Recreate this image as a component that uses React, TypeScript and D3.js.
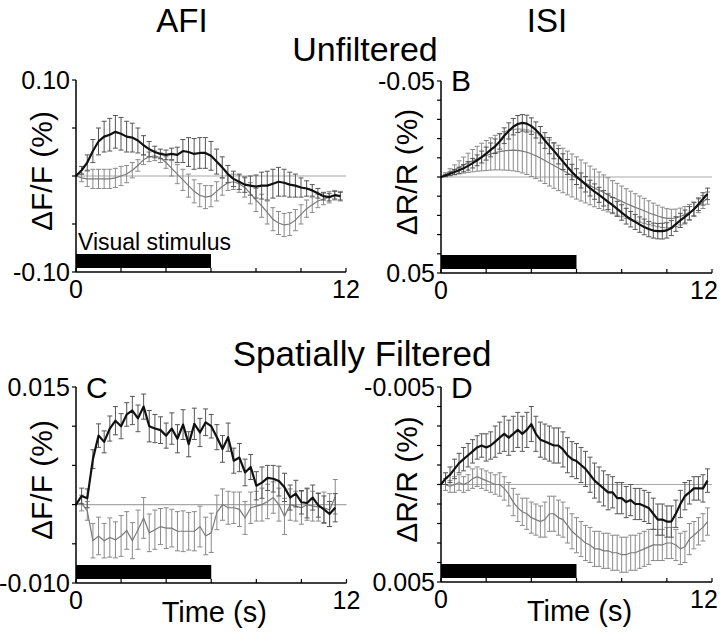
import React from "react";
import * as d3 from "d3";

// ---------- DATA ----------
const timesQuarter = [0, 0.25, 0.5, 0.75, 1, 1.25, 1.5, 1.75, 2, 2.25, 2.5, 2.75, 3, 3.25, 3.5, 3.75, 4, 4.25, 4.5, 4.75, 5, 5.25, 5.5, 5.75, 6, 6.25, 6.5, 6.75, 7, 7.25, 7.5, 7.75, 8, 8.25, 8.5, 8.75, 9, 9.25, 9.5, 9.75, 10, 10.25, 10.5, 10.75, 11, 11.25, 11.5, 11.75];
const timesFifth = [0, 0.2, 0.4, 0.6, 0.8, 1, 1.2, 1.4, 1.6, 1.8, 2, 2.2, 2.4, 2.6, 2.8, 3, 3.2, 3.4, 3.6, 3.8, 4, 4.2, 4.4, 4.6, 4.8, 5, 5.2, 5.4, 5.6, 5.8, 6, 6.2, 6.4, 6.6, 6.8, 7, 7.2, 7.4, 7.6, 7.8, 8, 8.2, 8.4, 8.6, 8.8, 9, 9.2, 9.4, 9.6, 9.8, 10, 10.2, 10.4, 10.6, 10.8, 11, 11.2, 11.4, 11.6, 11.8];

// Panel A: AFI unfiltered (dF/F %)
const afiRawBlack = [0, 0.006, 0.014, 0.026, 0.036, 0.041, 0.043, 0.046, 0.044, 0.041, 0.040, 0.037, 0.032, 0.028, 0.025, 0.023, 0.022, 0.023, 0.022, 0.026, 0.025, 0.023, 0.024, 0.024, 0.021, 0.015, 0.009, 0.002, -0.003, -0.006, -0.009, -0.010, -0.011, -0.010, -0.010, -0.008, -0.006, -0.007, -0.009, -0.010, -0.012, -0.013, -0.015, -0.018, -0.021, -0.022, -0.020, -0.021];
const afiRawBlackErr = [0, 0.004, 0.008, 0.012, 0.014, 0.016, 0.017, 0.017, 0.017, 0.016, 0.015, 0.013, 0.010, 0.008, 0.006, 0.005, 0.005, 0.006, 0.008, 0.012, 0.015, 0.016, 0.016, 0.016, 0.015, 0.013, 0.011, 0.009, 0.008, 0.008, 0.008, 0.010, 0.012, 0.014, 0.015, 0.015, 0.015, 0.014, 0.013, 0.012, 0.010, 0.008, 0.006, 0.005, 0.004, 0.004, 0.004, 0.004];
const afiRawGray = [0, -0.002, -0.003, -0.003, -0.003, -0.003, -0.003, -0.002, 0.000, 0.002, 0.006, 0.011, 0.017, 0.020, 0.021, 0.019, 0.014, 0.008, 0.002, -0.004, -0.010, -0.016, -0.020, -0.022, -0.021, -0.016, -0.011, -0.007, -0.006, -0.008, -0.012, -0.018, -0.025, -0.031, -0.038, -0.045, -0.049, -0.051, -0.050, -0.046, -0.040, -0.034, -0.030, -0.026, -0.024, -0.022, -0.020, -0.021];
const afiRawGrayErr = [0, 0.004, 0.008, 0.010, 0.010, 0.010, 0.010, 0.010, 0.010, 0.009, 0.008, 0.006, 0.005, 0.005, 0.005, 0.005, 0.006, 0.008, 0.010, 0.011, 0.012, 0.012, 0.012, 0.012, 0.011, 0.010, 0.009, 0.008, 0.008, 0.009, 0.010, 0.011, 0.012, 0.012, 0.012, 0.012, 0.012, 0.012, 0.012, 0.011, 0.010, 0.009, 0.008, 0.007, 0.006, 0.006, 0.005, 0.005];

// Panel B: ISI unfiltered (dR/R %)
const isiRawBlack = [0, -0.0008, -0.0017, -0.0026, -0.0035, -0.0046, -0.0058, -0.0072, -0.0087, -0.0104, -0.0122, -0.0141, -0.0160, -0.0185, -0.0215, -0.0240, -0.0262, -0.0276, -0.0282, -0.0278, -0.0265, -0.0245, -0.0220, -0.0190, -0.0163, -0.0136, -0.0108, -0.0080, -0.0052, -0.0026, -0.0002, 0.0018, 0.0038, 0.0058, 0.0076, 0.0093, 0.0111, 0.0129, 0.0147, 0.0166, 0.0185, 0.0204, 0.0220, 0.0234, 0.0248, 0.0260, 0.0271, 0.0279, 0.0282, 0.0282, 0.0278, 0.0266, 0.0245, 0.0226, 0.0208, 0.0189, 0.0168, 0.0142, 0.0114, 0.0088];
const isiRawBlackErr = [0, 0.0006, 0.0010, 0.0013, 0.0016, 0.0019, 0.0022, 0.0025, 0.0028, 0.0031, 0.0034, 0.0036, 0.0038, 0.0040, 0.0041, 0.0042, 0.0043, 0.0044, 0.0043, 0.0044, 0.0043, 0.0042, 0.0043, 0.0041, 0.0042, 0.0041, 0.0040, 0.0041, 0.0039, 0.0040, 0.0041, 0.0039, 0.0040, 0.0041, 0.0040, 0.0039, 0.0040, 0.0041, 0.0040, 0.0039, 0.0040, 0.0041, 0.0040, 0.0039, 0.0040, 0.0041, 0.0040, 0.0039, 0.0040, 0.0041, 0.0040, 0.0039, 0.0038, 0.0037, 0.0036, 0.0035, 0.0034, 0.0033, 0.0032, 0.0030];
const isiRawGray = [0, -0.0012, -0.0025, -0.0037, -0.0050, -0.0062, -0.0074, -0.0085, -0.0095, -0.0104, -0.0112, -0.0120, -0.0127, -0.0132, -0.0136, -0.0139, -0.0140, -0.0139, -0.0135, -0.0129, -0.0121, -0.0111, -0.0099, -0.0086, -0.0073, -0.0060, -0.0047, -0.0034, -0.0021, -0.0008, 0.0005, 0.0018, 0.0031, 0.0044, 0.0057, 0.0069, 0.0081, 0.0093, 0.0105, 0.0116, 0.0127, 0.0138, 0.0148, 0.0158, 0.0167, 0.0176, 0.0186, 0.0195, 0.0203, 0.0210, 0.0215, 0.0216, 0.0213, 0.0206, 0.0196, 0.0183, 0.0168, 0.0150, 0.0130, 0.0110];
const isiRawGrayErr = [0, 0.0010, 0.0018, 0.0026, 0.0034, 0.0042, 0.0050, 0.0058, 0.0065, 0.0072, 0.0078, 0.0084, 0.0090, 0.0095, 0.0100, 0.0104, 0.0108, 0.0111, 0.0114, 0.0116, 0.0118, 0.0119, 0.0120, 0.0120, 0.0120, 0.0119, 0.0118, 0.0116, 0.0114, 0.0112, 0.0110, 0.0107, 0.0104, 0.0101, 0.0098, 0.0095, 0.0092, 0.0089, 0.0086, 0.0083, 0.0080, 0.0077, 0.0074, 0.0071, 0.0068, 0.0065, 0.0062, 0.0059, 0.0056, 0.0053, 0.0050, 0.0048, 0.0046, 0.0044, 0.0042, 0.0040, 0.0038, 0.0036, 0.0034, 0.0032];

// Panel C: AFI spatially filtered (dF/F %)
const afiFiltBlack = [0, 0.0011, 0.0008, 0.0058, 0.0088, 0.0080, 0.0097, 0.0107, 0.0100, 0.0115, 0.0120, 0.0110, 0.0125, 0.0100, 0.0097, 0.0095, 0.0088, 0.0097, 0.0084, 0.0102, 0.0077, 0.0103, 0.0092, 0.0105, 0.0100, 0.0086, 0.0071, 0.0086, 0.0056, 0.0060, 0.0041, 0.0048, 0.0024, 0.0028, 0.0034, 0.0033, 0.0030, 0.0022, 0.0009, 0.0014, 0.0003, 0.0002, 0.0009, -0.0001, -0.0006, -0.0012, -0.0004];
const afiFiltBlackErr = [0, 0.0010, 0.0012, 0.0012, 0.0015, 0.0014, 0.0016, 0.0018, 0.0016, 0.0015, 0.0018, 0.0017, 0.0016, 0.0020, 0.0018, 0.0017, 0.0016, 0.0020, 0.0018, 0.0019, 0.0016, 0.0020, 0.0018, 0.0017, 0.0015, 0.0016, 0.0017, 0.0018, 0.0016, 0.0018, 0.0017, 0.0016, 0.0018, 0.0020, 0.0016, 0.0017, 0.0019, 0.0018, 0.0016, 0.0017, 0.0015, 0.0019, 0.0016, 0.0015, 0.0017, 0.0016, 0.0018];
const afiFiltGray = [0, 0.0002, -0.0008, -0.0046, -0.0040, -0.0046, -0.0042, -0.0045, -0.0040, -0.0033, -0.0046, -0.0032, -0.0017, -0.0036, -0.0032, -0.0028, -0.0030, -0.0030, -0.0034, -0.0034, -0.0034, -0.0034, -0.0028, -0.0040, -0.0036, -0.0010, 0.0000, -0.0004, -0.0004, -0.0006, -0.0017, -0.0004, -0.0002, 0.0000, 0.0004, 0.0009, 0.0000, -0.0015, 0.0000, -0.0002, -0.0004, 0.0000, -0.0002, -0.0003, -0.0004, -0.0007, 0.0010];
const afiFiltGrayErr = [0, 0.0010, 0.0012, 0.0022, 0.0024, 0.0022, 0.0025, 0.0023, 0.0026, 0.0024, 0.0023, 0.0025, 0.0026, 0.0024, 0.0025, 0.0023, 0.0026, 0.0024, 0.0025, 0.0026, 0.0024, 0.0025, 0.0026, 0.0024, 0.0025, 0.0022, 0.0020, 0.0021, 0.0020, 0.0022, 0.0021, 0.0020, 0.0019, 0.0021, 0.0022, 0.0020, 0.0021, 0.0023, 0.0020, 0.0019, 0.0021, 0.0020, 0.0019, 0.0018, 0.0020, 0.0021, 0.0022];

// Panel D: ISI spatially filtered (dR/R %)
const isiFiltBlack = [0, -0.0003, -0.0005, -0.0008, -0.0011, -0.0013, -0.0015, -0.0017, -0.0019, -0.0020, -0.0019, -0.0020, -0.0022, -0.0024, -0.0026, -0.0024, -0.0026, -0.0028, -0.0026, -0.0028, -0.0031, -0.0026, -0.0023, -0.0022, -0.0021, -0.0020, -0.0020, -0.0018, -0.0015, -0.0013, -0.0012, -0.0010, -0.0008, -0.0005, -0.0002, 0.0000, 0.0002, 0.0004, 0.0004, 0.0007, 0.0007, 0.0009, 0.0008, 0.0010, 0.0010, 0.0011, 0.0012, 0.0015, 0.0018, 0.0018, 0.0019, 0.0019, 0.0015, 0.0010, 0.0006, 0.0004, 0.0002, 0.0002, 0.0002, -0.0002];
const isiFiltBlackErr = [0, 0.0003, 0.0004, 0.0005, 0.0005, 0.0006, 0.0006, 0.0006, 0.0006, 0.0006, 0.0007, 0.0007, 0.0008, 0.0008, 0.0009, 0.0009, 0.0009, 0.0009, 0.0009, 0.0009, 0.0009, 0.0009, 0.0009, 0.0009, 0.0009, 0.0009, 0.0009, 0.0009, 0.0009, 0.0009, 0.0009, 0.0009, 0.0009, 0.0009, 0.0009, 0.0009, 0.0009, 0.0009, 0.0008, 0.0008, 0.0008, 0.0008, 0.0008, 0.0008, 0.0008, 0.0008, 0.0008, 0.0008, 0.0008, 0.0008, 0.0008, 0.0008, 0.0007, 0.0007, 0.0007, 0.0006, 0.0006, 0.0006, 0.0007, 0.0006];
const isiFiltGray = [0, 0.0000, 0.0001, 0.0000, -0.0001, 0.0000, -0.0001, -0.0003, -0.0004, -0.0003, -0.0002, -0.0001, 0.0000, 0.0000, 0.0002, 0.0005, 0.0009, 0.0012, 0.0014, 0.0015, 0.0017, 0.0018, 0.0019, 0.0018, 0.0015, 0.0015, 0.0017, 0.0018, 0.0021, 0.0024, 0.0026, 0.0028, 0.0030, 0.0031, 0.0033, 0.0033, 0.0034, 0.0034, 0.0035, 0.0035, 0.0036, 0.0036, 0.0035, 0.0035, 0.0034, 0.0033, 0.0032, 0.0031, 0.0031, 0.0031, 0.0030, 0.0030, 0.0031, 0.0033, 0.0032, 0.0028, 0.0026, 0.0024, 0.0022, 0.0019];
const isiFiltGrayErr = [0, 0.0003, 0.0003, 0.0004, 0.0004, 0.0004, 0.0004, 0.0005, 0.0005, 0.0005, 0.0005, 0.0005, 0.0005, 0.0006, 0.0006, 0.0006, 0.0007, 0.0007, 0.0007, 0.0008, 0.0008, 0.0008, 0.0008, 0.0009, 0.0009, 0.0009, 0.0009, 0.0009, 0.0009, 0.0009, 0.0009, 0.0009, 0.0009, 0.0009, 0.0009, 0.0009, 0.0009, 0.0009, 0.0009, 0.0009, 0.0009, 0.0009, 0.0009, 0.0009, 0.0009, 0.0009, 0.0009, 0.0008, 0.0008, 0.0008, 0.0008, 0.0008, 0.0008, 0.0008, 0.0008, 0.0008, 0.0007, 0.0007, 0.0007, 0.0007];

// Axes
const xTicks = [0, 2, 4, 6, 8, 10, 12];
const xTickLabels = ["0", "12"];
const yTicksA = [-0.1, -0.05, 0, 0.05, 0.1];
const yTicksB = [-0.05, -0.04, -0.03, -0.02, -0.01, 0, 0.01, 0.02, 0.03, 0.04, 0.05];
const yTicksC = [-0.01, -0.005, 0, 0.005, 0.01, 0.015];
const yTicksD = [-0.005, -0.004, -0.003, -0.002, -0.001, 0, 0.001, 0.002, 0.003, 0.004, 0.005];
const stimulusWindow = [0, 6];

const FONT = "'Liberation Sans', Arial, Helvetica, sans-serif";

type PanelProps = {
  x0: number; x1: number; yTop: number; yBot: number;
  domain: [number, number]; reversed: boolean;
  yTicks: number[]; topLabel: string; botLabel: string;
  yLabel: string; letter?: string; letterY?: number;
  times: number[];
  black: number[]; blackErr: number[]; gray: number[]; grayErr: number[];
  stimText?: boolean; xTitle?: boolean;
};

function ErrorBars({ times, vals, errs, x, y, color }: any) {
  return (
    <g stroke={color} strokeWidth={1} fill="none">
      {times.map((t: number, i: number) => {
        const e = errs[i];
        if (!e) return null;
        const cx = x(t);
        const ya = y(vals[i] - e);
        const yb = y(vals[i] + e);
        return (
          <g key={i}>
            <line x1={cx} x2={cx} y1={ya} y2={yb} />
            <line x1={cx - 2.5} x2={cx + 2.5} y1={ya} y2={ya} />
            <line x1={cx - 2.5} x2={cx + 2.5} y1={yb} y2={yb} />
          </g>
        );
      })}
    </g>
  );
}

function Panel(p: PanelProps) {
  const x = d3.scaleLinear().domain([0, 12]).range([p.x0, p.x1]);
  const y = d3.scaleLinear().domain(p.domain).range(p.reversed ? [p.yTop, p.yBot] : [p.yBot, p.yTop]);
  const line = d3.line<number>().x((_, i) => x(p.times[i])).y((v) => y(v));
  const midY = (p.yTop + p.yBot) / 2;
  const endLabelX = Math.min(x(xTicks[xTicks.length - 1]), 704);
  return (
    <g>
      <line x1={p.x0} x2={p.x1} y1={y(0)} y2={y(0)} stroke="#a8a8a8" strokeWidth={1.2} />
      <rect x={x(stimulusWindow[0])} width={x(stimulusWindow[1]) - x(stimulusWindow[0])} y={p.yBot - 18} height={14} fill="#000" />
      {p.stimText && (
        <text x={p.x0 + 2} y={p.yBot - 22} fontFamily={FONT} fontSize={23} fill="#000">Visual stimulus</text>
      )}
      <ErrorBars times={p.times} vals={p.gray} errs={p.grayErr} x={x} y={y} color="#8a8a8a" />
      <path d={line(p.gray) || ""} fill="none" stroke="#7a7a7a" strokeWidth={1.2} />
      <ErrorBars times={p.times} vals={p.black} errs={p.blackErr} x={x} y={y} color="#555" />
      <path d={line(p.black) || ""} fill="none" stroke="#111" strokeWidth={2.2} strokeLinejoin="round" />
      <line x1={p.x0} x2={p.x0} y1={p.yTop} y2={p.yBot} stroke="#000" strokeWidth={1.5} />
      <line x1={p.x0} x2={p.x1} y1={p.yBot} y2={p.yBot} stroke="#000" strokeWidth={1.5} />
      {p.yTicks.map((v) => (
        <line key={v} x1={p.x0 - 4} x2={p.x0} y1={y(v)} y2={y(v)} stroke="#000" strokeWidth={1.2} />
      ))}
      {xTicks.map((t) => (
        <line key={t} x1={x(t)} x2={x(t)} y1={p.yBot} y2={p.yBot - 4} stroke="#000" strokeWidth={1.2} />
      ))}
      <text x={p.x0 - 6} y={p.yTop} dy="0.35em" textAnchor="end" fontFamily={FONT} fontSize={25}>{p.topLabel}</text>
      <text x={p.x0 - 6} y={p.yBot} dy="0.35em" textAnchor="end" fontFamily={FONT} fontSize={25}>{p.botLabel}</text>
      <text x={x(xTicks[0])} y={p.yBot + 26} textAnchor="middle" fontFamily={FONT} fontSize={25}>{xTickLabels[0]}</text>
      <text x={endLabelX} y={p.yBot + 26} textAnchor="middle" fontFamily={FONT} fontSize={25}>{xTickLabels[1]}</text>
      <text transform={`translate(${p.x0 - 24},${midY - 5}) rotate(-90)`} textAnchor="middle" fontFamily={FONT} fontSize={30}>{p.yLabel}</text>
      {p.letter && (
        <text x={p.x0 + 10} y={p.letterY} fontFamily={FONT} fontSize={30}>{p.letter}</text>
      )}
      {p.xTitle && (
        <text x={(p.x0 + p.x1) / 2 + 3} y={p.yBot + 39} textAnchor="middle" fontFamily={FONT} fontSize={29}>Time (s)</text>
      )}
    </g>
  );
}

export default function App() {
  return (
    <svg width={720} height={636} style={{ position: "absolute", left: 0, top: 0, background: "#fff" }}>
      <rect width={720} height={636} fill="#fff" />
      <text x={182} y={32} textAnchor="middle" fontFamily={FONT} fontSize={33}>AFI</text>
      <text x={547} y={32} textAnchor="middle" fontFamily={FONT} fontSize={33}>ISI</text>
      <text x={365} y={61} textAnchor="middle" fontFamily={FONT} fontSize={34}>Unfiltered</text>
      <text x={362} y={366} textAnchor="middle" fontFamily={FONT} fontSize={35}>Spatially Filtered</text>
      <Panel x0={76} x1={346} yTop={80} yBot={272} domain={[-0.1, 0.1]} reversed={false}
        yTicks={yTicksA} topLabel="0.10" botLabel="-0.10" yLabel="ΔF/F (%)"
        times={timesQuarter} black={afiRawBlack} blackErr={afiRawBlackErr} gray={afiRawGray} grayErr={afiRawGrayErr} stimText />
      <Panel x0={441} x1={712} yTop={81} yBot={273} domain={[-0.05, 0.05]} reversed={true}
        yTicks={yTicksB} topLabel="-0.05" botLabel="0.05" yLabel="ΔR/R (%)" letter="B" letterY={91}
        times={timesFifth} black={isiRawBlack} blackErr={isiRawBlackErr} gray={isiRawGray} grayErr={isiRawGrayErr} />
      <Panel x0={76} x1={346.5} yTop={387} yBot={583} domain={[-0.01, 0.015]} reversed={false}
        yTicks={yTicksC} topLabel="0.015" botLabel="-0.010" yLabel="ΔF/F (%)" letter="C" letterY={398}
        times={timesQuarter.slice(0, afiFiltBlack.length)} black={afiFiltBlack} blackErr={afiFiltBlackErr} gray={afiFiltGray} grayErr={afiFiltGrayErr} xTitle />
      <Panel x0={441} x1={712} yTop={387} yBot={582} domain={[-0.005, 0.005]} reversed={true}
        yTicks={yTicksD} topLabel="-0.005" botLabel="0.005" yLabel="ΔR/R (%)" letter="D" letterY={398}
        times={timesFifth} black={isiFiltBlack} blackErr={isiFiltBlackErr} gray={isiFiltGray} grayErr={isiFiltGrayErr} xTitle />
    </svg>
  );
}
